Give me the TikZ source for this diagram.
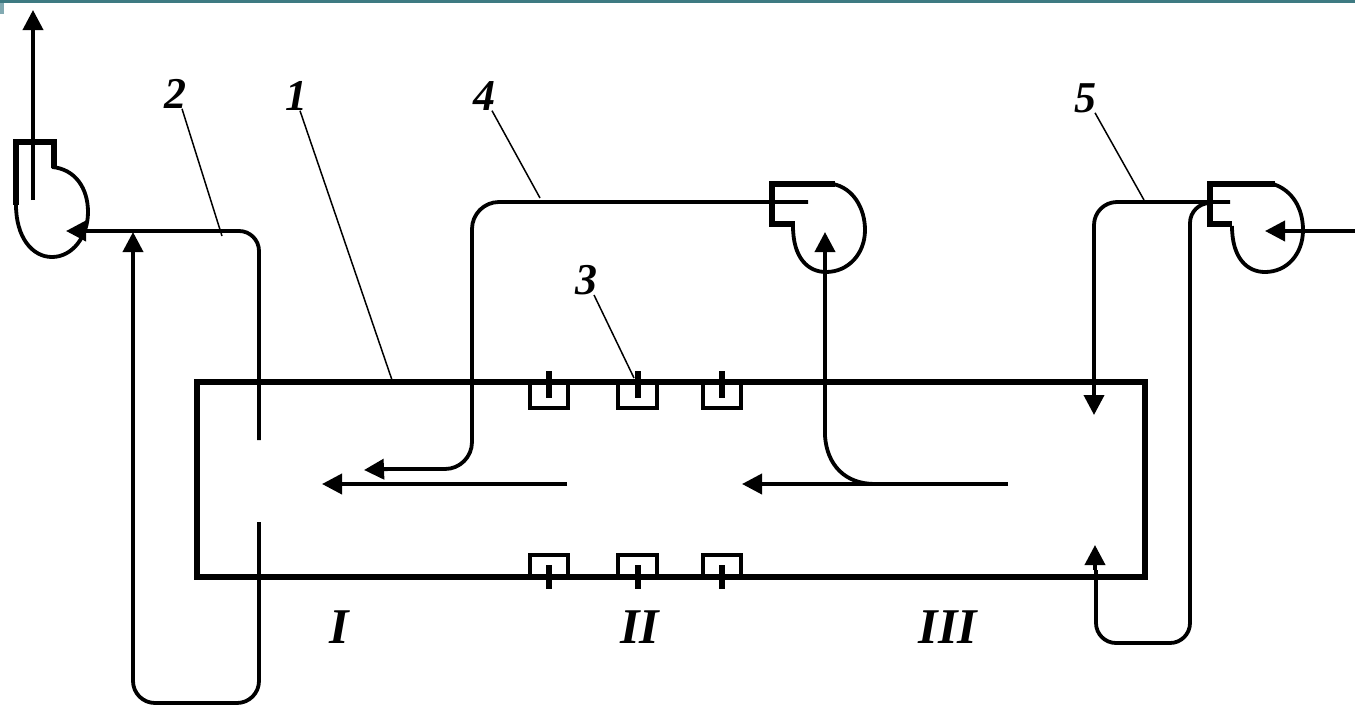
\documentclass[tikz,border=0pt]{standalone}
\usepackage{fontspec}
\setmainfont{Liberation Serif}
\usetikzlibrary{arrows.meta}
\definecolor{barteal}{RGB}{62,122,130}
\definecolor{barlight}{RGB}{130,170,178}
\tikzset{
  pipe/.style={line width=3.8pt,line join=round},
  flow/.style={pipe,-{Triangle[length=20pt,width=20pt]}},
  wall/.style={line width=6pt,line join=miter},
  casing/.style={line width=6pt,line join=miter},
  volute/.style={line width=3.8pt},
  leader/.style={line width=1.5pt},
  heater/.style={line width=4pt,line join=miter},
  tick/.style={line width=6pt},
  num/.style={font=\fontsize{44}{44}\selectfont\bfseries\itshape,inner sep=0pt},
  zone/.style={font=\fontsize{50}{50}\selectfont\bfseries\itshape,inner sep=0pt}
}
\begin{document}
\begin{tikzpicture}[x=1pt,y=-1pt]
\useasboundingbox (0,0) rectangle (1355,705);
\fill[barteal] (0,0) rectangle (1355,3);
\fill[barlight] (0,3) rectangle (4,14);

% chamber
\draw[wall] (197,382) rectangle (1145,577);

% labels
\node[num] (n2) at (175,94) {2};
\node[num] (n1) at (296,96) {1};
\node[num] (n4) at (484,96) {4};
\node[num] (n3) at (586,280) {3};
\node[num] (n5) at (1085,98) {5};
\node[zone] (z1) at (339,627) {I};
\node[zone] (z2) at (640,627) {II};
\node[zone] (z3) at (948,627) {III};

% heaters
\foreach \xa/\xb/\xc in {530/568/549,618/657/638,703/741/722}{
  \draw[heater] (\xa,382) -- (\xa,408) -- (\xb,408) -- (\xb,382);
  \draw[heater] (\xa,577) -- (\xa,555) -- (\xb,555) -- (\xb,577);
  \draw[tick] (\xc,371) -- (\xc,398);
  \draw[tick] (\xc,565) -- (\xc,589);
}

% fan 1 (left)
\draw[casing] (16,205) -- (16,142) -- (54,142) -- (54,168);
\draw[volute] (52,167) .. controls (75,169) and (88,188) .. (88,212)
  .. controls (88,237) and (72,257) .. (52,257)
  .. controls (32,257) and (16,237) .. (16,205);
% fan 2 (middle)
\draw[casing] (835,184) -- (772,184) -- (772,224) -- (795,224);
\draw[volute] (833,184) .. controls (853,188) and (865,208) .. (865,230)
  .. controls (865,254) and (848,272) .. (826,272)
  .. controls (808,272) and (793,258) .. (793,226);
% fan 3 (right)
\draw[casing] (1275,184) -- (1210,184) -- (1210,224) -- (1232,224);
\draw[volute] (1273,184) .. controls (1292,190) and (1303,208) .. (1303,230)
  .. controls (1303,254) and (1287,272) .. (1265,272)
  .. controls (1247,272) and (1232,258) .. (1232,226);

% named connector ends
\coordinate (f1out) at (33,200);
\coordinate (f1top) at (33,10);
\coordinate (f1in) at (66,231);
\coordinate (duct2a) at (259,440);
\coordinate (duct2b) at (259,522);
\coordinate (j2) at (133,232);
\coordinate (f2stub) at (808,202);
\coordinate (t4) at (364,470);
\coordinate (f2in) at (825,232);
\coordinate (m1a) at (567,484);
\coordinate (m1b) at (322,484);
\coordinate (m2a) at (1008,484);
\coordinate (m2b) at (742,484);
\coordinate (f3stub) at (1230,202);
\coordinate (f3edge) at (1212,203);
\coordinate (t5a) at (1094,415);
\coordinate (t5b) at (1095,545);
\coordinate (f3src) at (1355,231);
\coordinate (f3in) at (1265,231);

% ducts
\draw[flow] (f1out) -- (f1top);
\draw[pipe,rounded corners=20pt] (80,231) -- (259,231) -- (duct2a);
\draw[flow] (86,231) -- (f1in);
\draw[pipe,rounded corners=22pt] (duct2b) -- (259,703) -- (133,703) -- (133,250);
\draw[flow] (133,252) -- (j2);
\draw[pipe,rounded corners=27pt] (f2stub) -- (472,202) -- (472,469) -- (384,469);
\draw[flow] (390,469) -- (t4);
\draw[flow] (m1a) -- (m1b);
\draw[flow] (m2a) -- (m2b);
\draw[pipe] (825,255) -- (825,436) .. controls (827,465) and (845,484) .. (875,484);
\draw[flow] (825,255) -- (f2in);
\draw[pipe,rounded corners=23pt] (f3stub) -- (1094,202) -- (1094,395);
\draw[flow] (1094,390) -- (t5a);
\draw[pipe,rounded corners=20pt] (f3edge) -- (1190,203) -- (1190,643) -- (1096,643) -- (1096,570);
\draw[flow] (1095,570) -- (t5b);
\draw[pipe] (f3src) -- (1285,231);
\draw[flow] (1290,231) -- (f3in);

% leaders
\draw[leader] (n2.south) ++(7,0) -- (222,236);
\draw[leader] (n1.south) ++(4,0) -- (392,380);
\draw[leader] (n4.south) ++(8,0) -- (540,198);
\draw[leader] (n3.south) ++(8,0) -- (634,378);
\draw[leader] (n5.south) ++(10,0) -- (1144,200);
\end{tikzpicture}
\end{document}
